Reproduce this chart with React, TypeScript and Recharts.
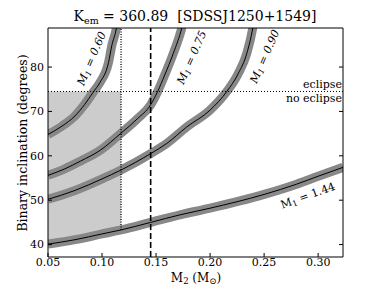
import { ComposedChart, Line, Area, XAxis, YAxis } from "recharts";

// axis ticks
const X_TICKS = [0.05, 0.1, 0.15, 0.2, 0.25, 0.3];
const Y_TICKS = [40, 50, 60, 70, 80];
const X_DOMAIN = [0.05, 0.323];
const Y_DOMAIN = [37.2, 88.8];

// inclination vs M2, one pair of arrays per white dwarf mass
const M2_060 = [0.05, 0.063, 0.075, 0.084, 0.092, 0.098, 0.106, 0.109, 0.1133, 0.115];
const INC_060 = [64.8, 66.7, 69.0, 71.6, 74.4, 76.5, 81.0, 84.8, 88.8, 91.5];

const M2_075 = [0.05, 0.065, 0.08, 0.098, 0.1176, 0.1325, 0.145, 0.1515, 0.158, 0.166, 0.1738, 0.176];
const INC_075 = [55.6, 57.0, 58.8, 61.2, 65.1, 68.3, 71.5, 74.5, 78.2, 83.1, 88.8, 91];

const M2_090 = [0.05, 0.075, 0.1, 0.1176, 0.145, 0.16, 0.1784, 0.2, 0.2155, 0.226, 0.234, 0.2395, 0.241];
const INC_090 = [50.2, 52.2, 54.8, 56.8, 60.5, 62.8, 66.5, 70.3, 74.5, 78.5, 83.1, 88.8, 91];

const M2_144 = [0.05, 0.075, 0.1, 0.1176, 0.145, 0.1722, 0.2, 0.25, 0.28, 0.3, 0.323];
const INC_144 = [40.1, 41.1, 42.4, 43.3, 45.0, 46.7, 48.2, 51.3, 53.6, 55.4, 57.4];

// allowed region (shaded) and limits
const SHADE_M2 = [0.05, 0.075, 0.1, 0.1176];
const SHADE_LOW = [40.1, 41.1, 42.4, 43.3];
const ECLIPSE_INC = 74.5;
const M2_LIMIT = 0.1176;
const M2_DONOR = 0.145;

const zip = (xs: number[], ys: number[]) => xs.map((m2, i) => ({ m2, inc: ys[i] }));

const curves = [
  { id: "060", data: zip(M2_060, INC_060) },
  { id: "075", data: zip(M2_075, INC_075) },
  { id: "090", data: zip(M2_090, INC_090) },
  { id: "144", data: zip(M2_144, INC_144) },
];

const shadeData = SHADE_M2.map((m2, i) => ({ m2, band: [SHADE_LOW[i], ECLIPSE_INC] }));
const eclipseData = [
  { m2: X_DOMAIN[0], inc: ECLIPSE_INC },
  { m2: X_DOMAIN[1], inc: ECLIPSE_INC },
];
const limitData = [
  { m2: M2_LIMIT, inc: SHADE_LOW[SHADE_LOW.length - 1] },
  { m2: M2_LIMIT, inc: Y_DOMAIN[1] },
];
const donorData = [
  { m2: M2_DONOR, inc: Y_DOMAIN[0] },
  { m2: M2_DONOR, inc: Y_DOMAIN[1] },
];

const FONT = "'DejaVu Serif', serif";
const tickStyle = { fontSize: 11, fill: "#000", fontFamily: FONT };
const blank = () => "";

export default function App() {
  return (
    <div style={{ position: "absolute", left: 0, top: 0, width: 382, height: 286, background: "#fff" }}>
      <ComposedChart
        width={382}
        height={286}
        margin={{ top: 0, right: 0, bottom: 0, left: 0 }}
      >
        <XAxis
          xAxisId="b"
          type="number"
          dataKey="m2"
          domain={X_DOMAIN}
          ticks={X_TICKS}
          allowDataOverflow
          height={29}
          tickSize={-4}
          tickMargin={5}
          tickFormatter={(v: number) => v.toFixed(2)}
          tick={tickStyle}
          stroke="#000"
        />
        <XAxis
          xAxisId="t"
          orientation="top"
          type="number"
          domain={X_DOMAIN}
          ticks={X_TICKS}
          allowDataOverflow
          height={28}
          tickSize={-4}
          tickFormatter={blank}
          stroke="#000"
        />
        <YAxis
          yAxisId="l"
          type="number"
          domain={Y_DOMAIN}
          ticks={Y_TICKS}
          allowDataOverflow
          width={48}
          tickSize={-4}
          tickMargin={8}
          tick={tickStyle}
          stroke="#000"
        />
        <YAxis
          yAxisId="r"
          orientation="right"
          type="number"
          domain={Y_DOMAIN}
          ticks={Y_TICKS}
          allowDataOverflow
          width={39}
          tickSize={-4}
          tickFormatter={blank}
          stroke="#000"
        />

        <Area
          xAxisId="b"
          yAxisId="l"
          data={shadeData}
          dataKey="band"
          type="linear"
          stroke="none"
          fill="#cccccc"
          fillOpacity={1}
          isAnimationActive={false}
        />

        {curves.map((c) => (
          <Line
            key={"band" + c.id}
            xAxisId="b"
            yAxisId="l"
            data={c.data}
            dataKey="inc"
            type="monotone"
            stroke="#888888"
            strokeWidth={9}
            dot={false}
            isAnimationActive={false}
          />
        ))}
        {curves.map((c) => (
          <Line
            key={"line" + c.id}
            xAxisId="b"
            yAxisId="l"
            data={c.data}
            dataKey="inc"
            type="monotone"
            stroke="#000"
            strokeWidth={1}
            dot={false}
            isAnimationActive={false}
          />
        ))}

        <Line
          xAxisId="b"
          yAxisId="l"
          data={eclipseData}
          dataKey="inc"
          stroke="#000"
          strokeWidth={1}
          strokeDasharray="1 2"
          dot={false}
          isAnimationActive={false}
        />
        <Line
          xAxisId="b"
          yAxisId="l"
          data={limitData}
          dataKey="inc"
          stroke="#000"
          strokeWidth={1.3}
          strokeDasharray="1 1.5"
          dot={false}
          isAnimationActive={false}
        />
        <Line
          xAxisId="b"
          yAxisId="l"
          data={donorData}
          dataKey="inc"
          stroke="#000"
          strokeWidth={1.6}
          strokeDasharray="6 3"
          dot={false}
          isAnimationActive={false}
        />
      </ComposedChart>

      <svg
        width={382}
        height={286}
        style={{ position: "absolute", left: 0, top: 0, pointerEvents: "none" }}
        fontFamily={FONT}
      >
        <text x={195} y={20.5} fontSize={14} textAnchor="middle" xmlSpace="preserve">
          K<tspan fontSize={9.5} dy={3}>em</tspan>
          <tspan dy={-3}>{" = 360.89\u00a0 [SDSSJ1250+1549]"}</tspan>
        </text>
        <text x={196} y={282} fontSize={12} textAnchor="middle">
          M<tspan fontSize={8.5} dy={1.5}>2</tspan>
          <tspan dy={-1.5}> (M</tspan>
          <tspan fontSize={8.5} dy={1.5}>⊙</tspan>
          <tspan dy={-1.5}>)</tspan>
        </text>
        <text
          x={0}
          y={0}
          fontSize={12.5}
          textAnchor="middle"
          transform="translate(27,143) rotate(-90)"
        >
          Binary inclination (degrees)
        </text>

        <text x={342} y={88} fontSize={11} textAnchor="end">eclipse</text>
        <text x={342} y={102} fontSize={11} textAnchor="end">no eclipse</text>

        <text fontSize={11} fontStyle="italic" textAnchor="middle" transform="translate(95,60) rotate(-67)">
          M<tspan fontSize={8} dy={2}>1</tspan>
          <tspan dy={-2}> = 0.60</tspan>
        </text>
        <text fontSize={11} fontStyle="italic" textAnchor="middle" transform="translate(195,59) rotate(-66)">
          M<tspan fontSize={8} dy={2}>1</tspan>
          <tspan dy={-2}> = 0.75</tspan>
        </text>
        <text fontSize={11} fontStyle="italic" textAnchor="middle" transform="translate(268,58) rotate(-66)">
          M<tspan fontSize={8} dy={2}>1</tspan>
          <tspan dy={-2}> = 0.90</tspan>
        </text>
        <text fontSize={11} textAnchor="middle" transform="translate(309,199) rotate(-20)">
          M<tspan fontSize={8} dy={2}>1</tspan>
          <tspan dy={-2}> = 1.44</tspan>
        </text>
      </svg>
    </div>
  );
}
